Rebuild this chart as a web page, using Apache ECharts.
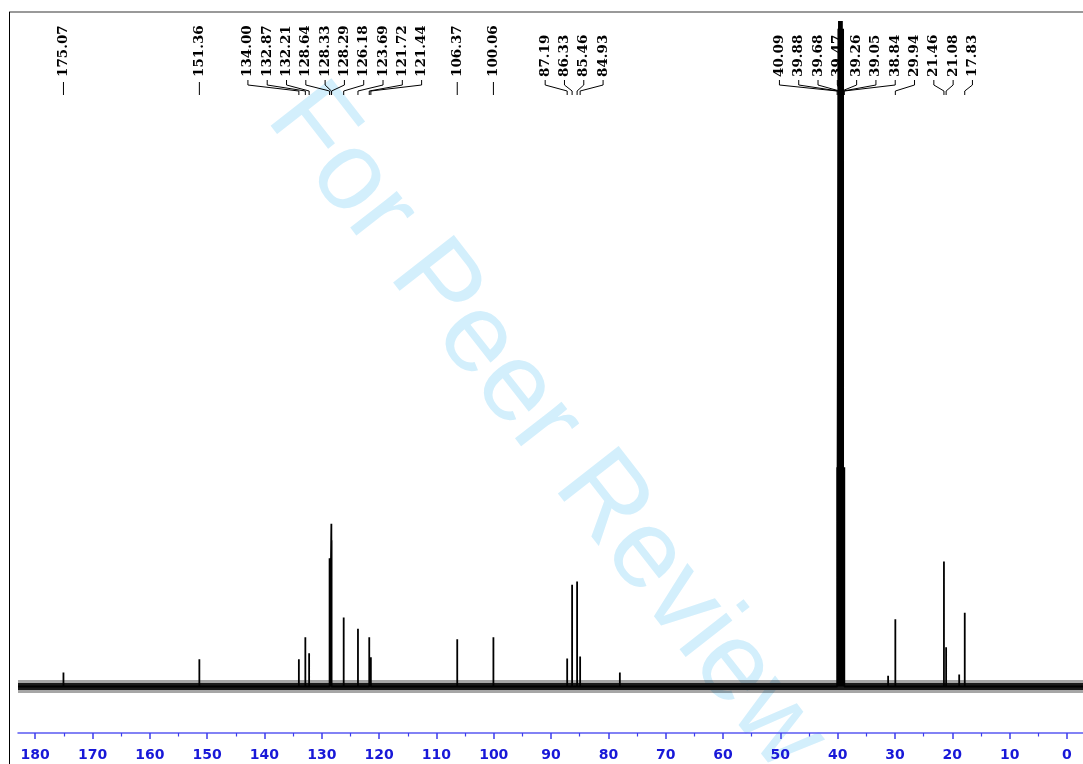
<!DOCTYPE html>
<html><head><meta charset="utf-8">
<script src="https://cdn.jsdelivr.net/npm/echarts@6/dist/echarts.min.js"></script>
<style>html,body{margin:0;padding:0;background:#fff;}#c{width:1083px;height:764px;}</style>
</head><body><div id="c"></div>
<script>
// ---- data ----
const peakPpm = [175.07, 151.36, 134.00, 132.87, 132.21, 128.64, 128.33, 128.29, 126.18, 123.69, 121.72, 121.44,
  106.37, 100.06, 87.19, 86.33, 85.46, 84.93, 40.09, 39.88, 39.68, 39.47, 39.26, 39.05, 38.84, 29.94, 21.46, 21.08, 17.83];
const peakHeight = [2.1, 4.1, 4.1, 7.4, 5.0, 19.3, 24.5, 22.0, 10.4, 8.7, 7.4, 4.4,
  7.1, 7.4, 4.2, 15.3, 15.8, 4.5, 33, 99, 200, 230, 200, 99, 33, 10.1, 18.8, 5.9, 11.1];
const minorPeakPpm = [78.0, 31.2, 18.8];
const minorPeakHeight = [2.1, 1.6, 1.8];
const majorTicks = [180, 170, 160, 150, 140, 130, 120, 110, 100, 90, 80, 70, 60, 50, 40, 30, 20, 10, 0];
const minorTicks = [175, 165, 155, 145, 135, 125, 115, 105, 95, 85, 75, 65, 55, 45, 35, 25, 15, 5];
const watermarkText = 'For Peer Review';

const X_MIN = -2.8, X_MAX = 183, Y_MIN = -7, Y_MAX = 100;

// spectrum polyline built from the peak list (baseline between peaks)
const allPeaks = peakPpm.map((p, i) => [p, peakHeight[i]])
  .concat(minorPeakPpm.map((p, i) => [p, minorPeakHeight[i]]))
  .sort((a, b) => b[0] - a[0]);
const spectrum = [[X_MAX, 0]];
allPeaks.forEach(([p, h]) => { spectrum.push([p, 0], [p, h], [p, 0]); });
spectrum.push([X_MIN, 0]);

const chart = echarts.init(document.getElementById('c'), null, {renderer: 'canvas'});
const axisBlue = '#5a5af2';
const option = {
  animation: false,
  backgroundColor: '#ffffff',
  grid: {left: 18, right: 0, top: 22, bottom: 31, containLabel: false},
  xAxis: [{
    type: 'value', inverse: true, min: X_MIN, max: X_MAX, position: 'bottom',
    axisLine: {show: true, onZero: false, lineStyle: {color: axisBlue, width: 1.5}},
    axisTick: {show: true, customValues: majorTicks, length: 6, lineStyle: {color: '#3c3cec', width: 1.5}},
    axisLabel: {show: true, customValues: majorTicks, color: '#1818d8', fontWeight: 'bold', fontSize: 14,
      fontFamily: 'DejaVu Sans', margin: 15},
    splitLine: {show: false}
  }, {
    type: 'value', inverse: true, min: X_MIN, max: X_MAX, position: 'bottom', offset: 0,
    axisLine: {show: false, onZero: false},
    axisTick: {show: true, customValues: minorTicks, length: 3.5, lineStyle: {color: '#3c3cec', width: 1.2}},
    axisLabel: {show: false},
    splitLine: {show: false}
  }],
  yAxis: {type: 'value', min: Y_MIN, max: Y_MAX, show: false},
  series: [{
    type: 'line', data: [[X_MAX, 0], [X_MIN, 0]], symbol: 'none', silent: true, z: 2,
    lineStyle: {color: 'rgba(0,0,0,0.35)', width: 13}
  }, {
    type: 'line', data: [[X_MAX, 0], [X_MIN, 0]], symbol: 'none', silent: true, z: 2,
    lineStyle: {color: '#1a1a1a', width: 7}
  }, {
    type: 'line', data: spectrum, symbol: 'none', silent: true, clip: true, z: 3,
    lineStyle: {color: '#000000', width: 1.8}
  }]
};
chart.setOption(option);

// ---- peak label layout (cluster-centred, fixed spacing) ----
const GAP = 19.3;
const items = peakPpm.map((p, i) => ({ppm: p, px: chart.convertToPixel({xAxisIndex: 0}, p)}))
  .sort((a, b) => a.px - b.px);
let clusters = items.map(it => ({m: [it]}));
function place(c) {
  const mean = c.m.reduce((s, it) => s + it.px, 0) / c.m.length;
  c.pos = c.m.map((_, i) => mean + (i - (c.m.length - 1) / 2) * GAP);
}
let changed = true;
while (changed) {
  changed = false;
  clusters.forEach(place);
  for (let i = 0; i < clusters.length - 1; i++) {
    const a = clusters[i], b = clusters[i + 1];
    if (a.pos[a.pos.length - 1] + GAP > b.pos[0] + 0.01) {
      a.m = a.m.concat(b.m);
      clusters.splice(i + 1, 1);
      changed = true;
      break;
    }
  }
}
clusters.forEach(place);

const gfx = [];
// watermark
gfx.push({type: 'text', x: 546, y: 428, rotation: -52 * Math.PI / 180, z: -100, silent: true,
  style: {text: watermarkText, font: '112px "Liberation Sans"', fill: '#d3effc',
    textAlign: 'center', textVerticalAlign: 'middle', align: 'center', verticalAlign: 'middle'}});
// frame
gfx.push({type: 'line', silent: true, shape: {x1: 9, y1: 12, x2: 1083, y2: 12}, style: {stroke: '#777', lineWidth: 1.5}});
gfx.push({type: 'line', silent: true, shape: {x1: 9.5, y1: 12, x2: 9.5, y2: 764}, style: {stroke: '#000', lineWidth: 1}});

clusters.forEach(c => {
  c.m.forEach((it, i) => {
    const lx = c.pos[i];
    gfx.push({type: 'text', x: lx, y: 77, rotation: Math.PI / 2, silent: true, z: 10,
      style: {text: it.ppm.toFixed(2), font: 'bold 13.5px "DejaVu Serif"', fill: '#000',
        textAlign: 'left', textVerticalAlign: 'middle', align: 'left', verticalAlign: 'middle'}});
    let pts;
    if (Math.abs(lx - it.px) < 1.5) {
      pts = [[it.px, 82], [it.px, 95]];
    } else {
      pts = [[lx, 80], [lx, 85], [it.px, 91], [it.px, 95]];
    }
    gfx.push({type: 'polyline', silent: true, z: 10, shape: {points: pts},
      style: {stroke: '#000', lineWidth: 1, fill: null}});
  });
});
chart.setOption({graphic: {elements: gfx}});
</script>
</body></html>
